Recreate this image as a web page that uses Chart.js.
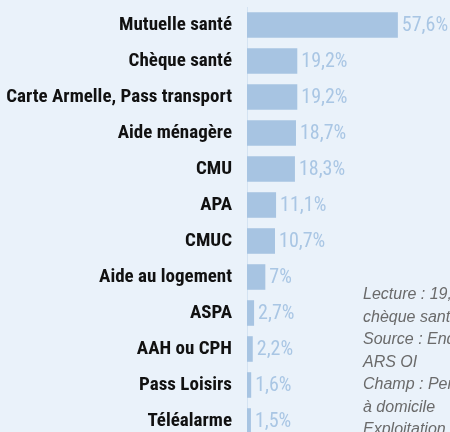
<!DOCTYPE html>
<html>
<head>
<meta charset="utf-8">
<script src="https://cdn.jsdelivr.net/npm/chart.js@4"></script>
<style>
	body { margin: 0; background: #eaf2fa; width: 450px; height: 432px; overflow: hidden; position: relative; }
	#wrap { position: absolute; left: 0; top: 0; width: 450px; height: 440px; }
	#note {
		position: absolute; left: 363px; top: 283px;
		font: italic 16px "Liberation Sans", Arial, sans-serif;
		line-height: 22.5px; color: #6a6a6a; white-space: nowrap;
	}
</style>
</head>
<body>
<div id="wrap"><canvas id="aidesChart"></canvas></div>
<div id="note">
	Lecture : 19,2 % des personnes bénéficient du<br>
	chèque santé<br>
	Source : Enquête Aides sociales 2014,<br>
	ARS OI<br>
	Champ : Personnes âgées vivant<br>
	à domicile<br>
	Exploitation : ORS OI
</div>
<script>
const aides = [
	"Mutuelle santé",
	"Chèque santé",
	"Carte Armelle, Pass transport",
	"Aide ménagère",
	"CMU",
	"APA",
	"CMUC",
	"Aide au logement",
	"ASPA",
	"AAH ou CPH",
	"Pass Loisirs",
	"Téléalarme"
];
const parts = [57.6, 19.2, 19.2, 18.7, 18.3, 11.1, 10.7, 7, 2.7, 2.2, 1.6, 1.5];

const barBlue = "#a7c4e2";
const narrow = "'Roboto Condensed', 'Liberation Sans Narrow', sans-serif";

// pourcentages à droite des barres
const valueLabels = {
	id: "valueLabels",
	afterDatasetsDraw(chart) {
		const ctx = chart.ctx;
		const meta = chart.getDatasetMeta(0);
		ctx.save();
		ctx.font = "20px " + narrow;
		ctx.fillStyle = "#a9c6e4";
		ctx.textAlign = "left";
		ctx.textBaseline = "middle";
		meta.data.forEach((bar, i) => {
			const txt = String(parts[i]).replace(".", ",") + "%";
			ctx.fillText(txt, bar.x + 4, bar.y + 1);
		});
		ctx.restore();
	}
};

const chartCtx = document.getElementById("aidesChart").getContext("2d");
new Chart(chartCtx, {
	type: "bar",
	data: {
		labels: aides,
		datasets: [
			{
				data: parts,
				backgroundColor: barBlue,
				borderWidth: 0,
				categoryPercentage: 1,
				barPercentage: 0.71
			}
		]
	},
	options: {
		indexAxis: "y",
		responsive: true,
		maintainAspectRatio: false,
		animation: false,
		layout: { padding: { top: 7, bottom: 1, left: 0, right: 0 } },
		plugins: { legend: { display: false }, tooltip: { enabled: false } },
		scales: {
			x: { display: false, min: 0, max: 77.5 },
			y: {
				afterFit(scale) {
					scale.width = 247;
					scale.paddingTop = 0;
					scale.paddingBottom = 0;
				},
				grid: { display: false },
				border: { display: true, color: "#d4e3f2", width: 1 },
				ticks: {
					color: "#111",
					padding: 7,
					font: { family: narrow, size: 19, weight: "bold" }
				}
			}
		}
	},
	plugins: [valueLabels]
});
</script>
</body>
</html>
